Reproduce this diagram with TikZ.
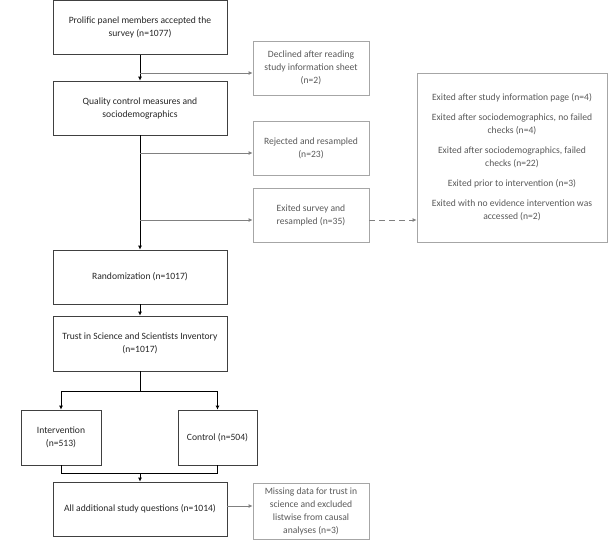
\documentclass[tikz,border=0pt]{standalone}
\usepackage{fontspec}
\setmainfont{Carlito}
\usetikzlibrary{arrows.meta}
\definecolor{mainline}{HTML}{404040}
\definecolor{maintext}{HTML}{262626}
\definecolor{sideline}{HTML}{A6A6A6}
\definecolor{sidetext}{HTML}{595959}
\definecolor{sidearrow}{HTML}{808080}
\tikzset{
  x=1pt, y=-1pt,
  mainbox/.style={draw=mainline, line width=0.8pt, text=maintext, align=center,
    font=\fontsize{9.6}{13}\selectfont, inner sep=0pt, minimum width=174pt, minimum height=54pt},
  sidebox/.style={draw=sideline, line width=0.8pt, text=sidetext, align=center,
    font=\fontsize{9.6}{13}\selectfont, inner sep=0pt, minimum width=116pt, minimum height=54pt},
  mainarrow/.style={draw=black, line width=1pt, -{Latex[length=4pt,width=4pt]}},
  mainlinestyle/.style={draw=black, line width=1pt},
  sidearr/.style={draw=sidearrow, line width=1pt, -{Latex[length=4pt,width=4pt]}},
}
\begin{document}
\begin{tikzpicture}
\useasboundingbox (0,0) rectangle (611,542);
% main column
\node[mainbox] (prolific) at (140,27.5) {Prolific panel members accepted the\\survey (n=1077)};
\node[mainbox] (quality) at (140,108) {Quality control measures and\\sociodemographics};
\node[mainbox] (random) at (140,277) {Randomization (n=1017)};
\node[mainbox, minimum height=55pt] (trust) at (140,343.5) {Trust in Science and Scientists Inventory\\(n=1017)};
\node[mainbox, minimum width=80pt, minimum height=55pt] (interv) at (61,437.5) {Intervention\\(n=513)};
\node[mainbox, minimum width=79pt, minimum height=55pt] (control) at (217.5,437.5) {Control (n=504)};
\node[mainbox] (additional) at (140,509) {All additional study questions (n=1014)};
% side boxes
\node[sidebox] (declined) at (311,68) {Declined after reading\\study information sheet\\(n=2)};
\node[sidebox] (rejected) at (311,148) {Rejected and resampled\\(n=23)};
\node[sidebox] (exited) at (311,215) {Exited survey and\\resampled (n=35)};
\node[sidebox, minimum height=56pt] (missing) at (311,511) {Missing data for trust in\\science and excluded\\listwise from causal\\analyses (n=3)};
\node[sidebox, minimum width=190pt, minimum height=169pt] (reasons) at (512,157.5)
  {Exited after study information page (n=4)\\[7pt]
   Exited after sociodemographics, no failed\\checks (n=4)\\[7pt]
   Exited after sociodemographics, failed\\checks (n=22)\\[7pt]
   Exited prior to intervention (n=3)\\[7pt]
   Exited with no evidence intervention was\\accessed (n=2)};
% coordinates
\coordinate (b1) at (prolific.south |- 0,73);
\coordinate (b2) at (quality.south |- 0,153);
\coordinate (b3) at (quality.south |- 0,220);
\coordinate (split) at (trust.south |- 0,391);
\coordinate (splitL) at (interv.north |- 0,391);
\coordinate (splitR) at (control.north |- 0,391);
\coordinate (mergeL) at (interv.south |- 0,473);
\coordinate (mergeR) at (control.south |- 0,473);
\coordinate (merge) at (additional.north |- 0,473);
% main connectors
\draw[mainarrow] (prolific.south) -- (quality.north);
\draw[mainarrow] (quality.south) -- (random.north);
\draw[mainarrow] (random.south) -- (trust.north);
\draw[mainlinestyle] (trust.south) -- (split);
\draw[mainarrow] (splitR) -- (splitL) -- (interv.north);
\draw[mainarrow] (splitL) -- (splitR) -- (control.north);
\draw[mainlinestyle] (interv.south) -- (mergeL) -- (mergeR) -- (control.south);
\draw[mainarrow] (merge) -- (additional.north);
% side connectors
\draw[sidearr] (b1) -- (declined.west |- b1);
\draw[sidearr] (b2) -- (rejected.west |- b2);
\draw[sidearr] (b3) -- (exited.west |- b3);
\draw[sidearr, dashed, dash pattern=on 6pt off 4pt] (exited.east |- b3) -- (reasons.west |- b3);
\draw[sidearr] (additional.east |- 0,506) -- (missing.west |- 0,506);
\end{tikzpicture}
\end{document}
